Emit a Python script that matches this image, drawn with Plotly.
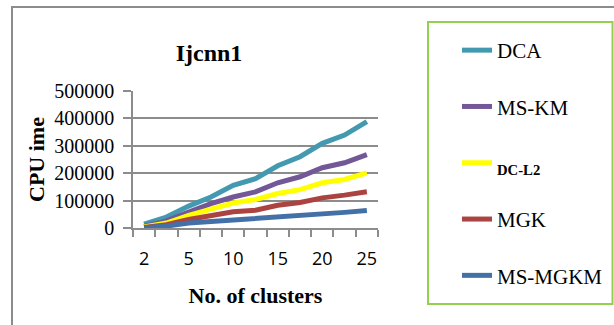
import plotly.graph_objects as go

# ---- data ----
clusters = ["2", "3", "5", "7", "10", "12", "15", "17", "20", "22", "25"]
series_names = ["DCA", "MS-KM", "DC-L2", "MGK", "MS-MGKM"]
dca = [14000, 40000, 80000, 113000, 156000, 180000, 227000, 260000, 309000, 339000, 388000]
ms_km = [6000, 26000, 58000, 89000, 113000, 132000, 165000, 187000, 220000, 238000, 268000]
dc_l2 = [4000, 18000, 46000, 67000, 91000, 104000, 126000, 140000, 165000, 177000, 201000]
mgk = [2000, 12000, 31000, 44000, 59000, 65000, 83000, 93000, 110000, 120000, 132000]
ms_mgkm = [1000, 7000, 18000, 23000, 30000, 34000, 40000, 46000, 51000, 57000, 64000]
y_ticks = [0, 100000, 200000, 300000, 400000, 500000]

values = [dca, ms_km, dc_l2, mgk, ms_mgkm]
colors = ["#4399B0", "#735898", "#FFFF00", "#AB4440", "#4470A8"]
legend_labels = ["DCA", "MS-KM", "<sub><b>DC-L2</b></sub>", "MGK", "MS-MGKM"]

x_idx = list(range(len(clusters)))
shown_idx = x_idx[::2]
shown_lab = clusters[::2]
boundaries = [i - 0.5 for i in range(len(clusters) + 1)]

SERIF = "'Liberation Serif', 'Times New Roman', 'DejaVu Serif', serif"
GRID = "#8C8C8C"

fig = go.Figure()
for name, lab, vals, col in zip(series_names, legend_labels, values, colors):
    fig.add_trace(go.Scatter(
        x=x_idx, y=vals, mode="lines", name=lab, legendgroup=name,
        line=dict(color=col, width=5), hoverinfo="skip",
    ))

L, R, T, B = 133, 236, 91, 97
W, H = 614, 325
pw = W - L - R
ph = H - T - B

def px_x(x):
    return (x - L) / pw

def px_y(y):
    return (H - B - y) / ph

fig.update_layout(
    width=W, height=H,
    margin=dict(l=L, r=R, t=T, b=B, autoexpand=False),
    paper_bgcolor="white", plot_bgcolor="white",
    title=dict(text="<b>Ijcnn1</b>", font=dict(family=SERIF, size=24, color="black"),
               xref="container", x=209 / W, xanchor="center",
               yref="container", y=1 - 53 / H, yanchor="middle"),
    xaxis=dict(
        range=[-0.5, len(clusters) - 0.5],
        tickmode="array", tickvals=shown_idx, ticktext=shown_lab,
        ticks="", ticklabelstandoff=14,
        minor=dict(tickmode="array", tickvals=boundaries, ticks="outside",
                   ticklen=7, tickcolor=GRID, tickwidth=1.5, showgrid=False),
        tickfont=dict(family="Open Sans", size=18, color="black"),
        showline=True, linecolor=GRID, linewidth=1.5,
        showgrid=False, zeroline=False,
        title=dict(text="<b>No. of clusters</b>", standoff=18,
                   font=dict(family=SERIF, size=22, color="black")),
    ),
    yaxis=dict(
        range=[0, 500000], tickmode="array", tickvals=y_ticks,
        tickformat="d",
        ticks="outside", ticklen=8, tickcolor=GRID, tickwidth=1.5,
        ticklabelstandoff=5,
        tickfont=dict(family=SERIF, size=20, color="black"),
        showline=True, linecolor=GRID, linewidth=1.5,
        showgrid=True, gridcolor=GRID, gridwidth=1.5, zeroline=False,
        title=dict(text="<b>CPU ime</b>", standoff=4,
                   font=dict(family=SERIF, size=22, color="black")),
    ),
    legend=dict(
        xref="container", yref="container",
        x=457 / W, xanchor="left", y=1 - 30 / H, yanchor="top",
        font=dict(family=SERIF, size=21, color="black"),
        bgcolor="rgba(0,0,0,0)", borderwidth=0, maxheight=300,
        traceorder="grouped", tracegroupgap=26,
        itemclick=False, itemdoubleclick=False,
    ),
    showlegend=True,
    shapes=[
        dict(type="rect", xref="paper", yref="paper",
             x0=px_x(12), x1=px_x(640), y0=px_y(7), y1=px_y(340),
             line=dict(color="#8C8C8C", width=2), fillcolor="rgba(0,0,0,0)", layer="below"),
        dict(type="rect", xref="paper", yref="paper",
             x0=px_x(428), x1=px_x(612.5), y0=px_y(22), y1=px_y(304),
             line=dict(color="#92D050", width=2), fillcolor="rgba(0,0,0,0)", layer="below"),
    ],
)

fig.write_html("out.html", config={"displayModeBar": False},
               post_script="document.body.style.margin='0';document.body.style.overflow='hidden';")
